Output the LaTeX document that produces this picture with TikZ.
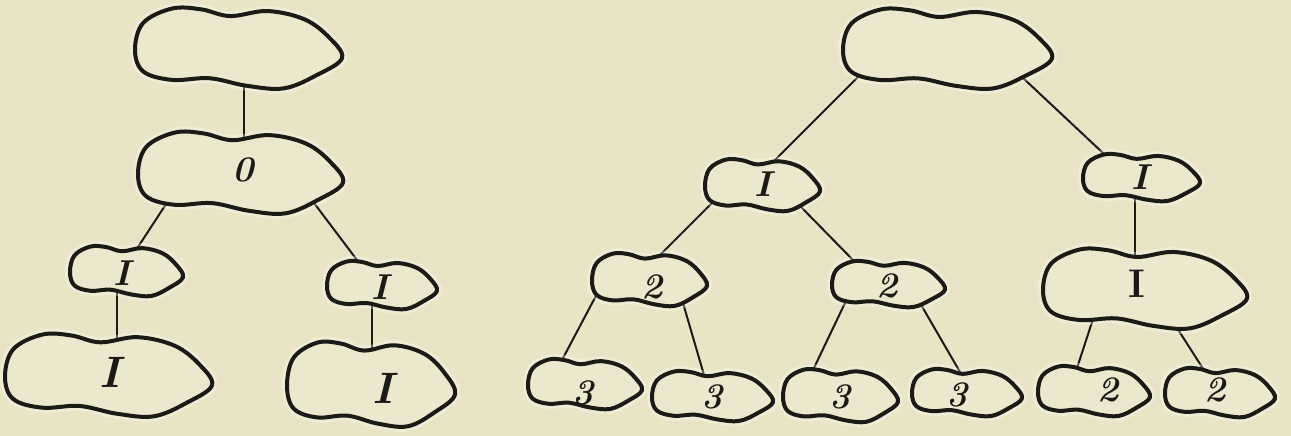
\documentclass[tikz,border=0pt]{standalone}
\usetikzlibrary{calc}
\definecolor{paper}{HTML}{E9E4C5}
\definecolor{blobfill}{HTML}{ECE8CE}
\definecolor{ink}{HTML}{1C1A16}
\tikzset{
  blobline/.style={draw=ink, line width=4pt, fill=blobfill, line join=round},
  blobhalo/.style={draw=white, draw opacity=0.3, line width=10pt},
  blobbox/.style={rectangle, draw=none, inner sep=0pt, outer sep=0pt},
  conn/.style={draw=ink, line width=2pt, shorten <=-6pt, shorten >=-6pt},
  lbl/.style={text=ink, font=\fontsize{36}{38}\selectfont\bfseries\itshape, inner sep=0pt},
  biglbl/.style={text=ink, font=\fontsize{44}{46}\selectfont\bfseries\itshape, inner sep=0pt},
  uplbl/.style={text=ink, font=\fontsize{40}{42}\selectfont\bfseries, inner sep=0pt},
}
\newcommand\drawblob[4]{%
  \begin{scope}[shift={(#1,#2)},xscale=#3,yscale=#4]
    \path[blobhalo] plot[smooth cycle,tension=0.6] coordinates {
      (-0.50,0.02) (-0.46,-0.30) (-0.32,-0.47) (-0.18,-0.46) (-0.04,-0.38)
      (0.14,-0.44) (0.32,-0.34) (0.44,-0.12) (0.50,0.12) (0.38,0.32)
      (0.22,0.48) (0.04,0.45) (-0.14,0.36) (-0.32,0.38) (-0.46,0.28)};
    \path[blobline] plot[smooth cycle,tension=0.6] coordinates {
      (-0.50,0.02) (-0.46,-0.30) (-0.32,-0.47) (-0.18,-0.46) (-0.04,-0.38)
      (0.14,-0.44) (0.32,-0.34) (0.44,-0.12) (0.50,0.12) (0.38,0.32)
      (0.22,0.48) (0.04,0.45) (-0.14,0.36) (-0.32,0.38) (-0.46,0.28)};
  \end{scope}}
\newcommand\blobnode[5]{%
  \node[blobbox, minimum width=#4pt, minimum height=#5pt] (#1) at (#2,#3) {};}
\begin{document}
\begin{tikzpicture}[x=1pt,y=-1pt]
\useasboundingbox (0,0) rectangle (1291,436);
\fill[paper] (0,0) rectangle (1291,436);
% nodes (boxes of the blobs)
\blobnode{A}{238.5}{48}{207}{84}
\blobnode{B}{240.5}{172.5}{205}{85}
\blobnode{C}{126.5}{271}{113}{52}
\blobnode{D}{382}{285}{110}{50}
\blobnode{E}{108.5}{375}{207}{86}
\blobnode{F}{371}{384}{168}{88}
\blobnode{G}{947.5}{48.5}{209}{83}
\blobnode{H}{762.5}{185}{115}{54}
\blobnode{I}{649.5}{279.5}{115}{55}
\blobnode{J}{888.5}{284}{113}{48}
\blobnode{K}{1141.5}{177.5}{117}{49}
\blobnode{L}{1145}{288.5}{204}{83}
\blobnode{Ta}{585}{384}{114}{52}
\blobnode{Tb}{712.5}{396}{121}{52}
\blobnode{Tc}{840.5}{395.5}{115}{55}
\blobnode{Td}{967}{392.5}{110}{49}
\blobnode{Pa}{1094}{391}{112}{52}
\blobnode{Pb}{1220}{392.5}{110}{51}
% connectors
\draw[conn] ([shift={(5.5,40)}]A.center) -- ([shift={(3.5,-37.5)}]B.center);
\draw[conn] ([shift={(-70.5,25.5)}]B.center) -- ([shift={(11.5,-24)}]C.center);
\draw[conn] ([shift={(76.5,34.5)}]B.center) -- ([shift={(-25,-25)}]D.center);
\draw[conn] ([shift={(-9.5,26)}]C.center) -- ([shift={(8.5,-40)}]E.center);
\draw[conn] ([shift={(-10,25)}]D.center) -- ([shift={(1,-42)}]F.center);
\draw[conn] ([shift={(-82.5,21.5)}]G.center) -- ([shift={(9.5,-22)}]H.center);
\draw[conn] ([shift={(75.5,29.5)}]G.center) -- ([shift={(-38.5,-24.5)}]K.center);
\draw[conn] ([shift={(-49.5,17)}]H.center) -- ([shift={(8.5,-22.5)}]I.center);
\draw[conn] ([shift={(39.5,23)}]H.center) -- ([shift={(-35.5,-24)}]J.center);
\draw[conn] ([shift={(-51.5,12.5)}]I.center) -- ([shift={(-23,-24)}]Ta.center);
\draw[conn] ([shift={(33.5,23.5)}]I.center) -- ([shift={(-8.5,-21)}]Tb.center);
\draw[conn] ([shift={(-43.5,19)}]J.center) -- ([shift={(-27.5,-25.5)}]Tc.center);
\draw[conn] ([shift={(31.5,19)}]J.center) -- ([shift={(-7,-20.5)}]Td.center);
\draw[conn] ([shift={(-6.5,24.5)}]K.center) -- ([shift={(-10,-33.5)}]L.center);
\draw[conn] ([shift={(-50,24.5)}]L.center) -- ([shift={(-17,-23)}]Pa.center);
\draw[conn] ([shift={(32,39.5)}]L.center) -- ([shift={(-18,-25.5)}]Pb.center);
% blob outlines
\drawblob{238.5}{48}{207}{84}
\drawblob{240.5}{172.5}{205}{85}
\drawblob{126.5}{271}{113}{52}
\drawblob{382}{285}{110}{50}
\drawblob{108.5}{375}{207}{86}
\drawblob{371}{384}{168}{88}
\drawblob{947.5}{48.5}{209}{83}
\drawblob{762.5}{185}{115}{54}
\drawblob{649.5}{279.5}{115}{55}
\drawblob{888.5}{284}{113}{48}
\drawblob{1141.5}{177.5}{117}{49}
\drawblob{1145}{288.5}{204}{83}
\drawblob{585}{384}{114}{52}
\drawblob{712.5}{396}{121}{52}
\drawblob{840.5}{395.5}{115}{55}
\drawblob{967}{392.5}{110}{49}
\drawblob{1094}{391}{112}{52}
\drawblob{1220}{392.5}{110}{51}
% labels
\node[lbl] (tB) at (243,170) {0};
\node[lbl] (tC) at (122,273) {I};
\node[lbl] (tD) at (380,287) {I};
\node[biglbl] (tE) at (110,372) {I};
\node[biglbl] (tF) at (383,388) {I};
\node[lbl] (tH) at (763,184) {I};
\node[lbl] (tI) at (652,287) {2};
\node[lbl] (tJ) at (887,286) {2};
\node[lbl] (tK) at (1140,177) {I};
\node[uplbl] (tL) at (1137,284) {I};
\node[lbl] (tTa) at (583,393) {3};
\node[lbl] (tTb) at (712,397) {3};
\node[lbl] (tTc) at (840,397) {3};
\node[lbl] (tTd) at (957,395) {3};
\node[lbl] (tPa) at (1108,390) {2};
\node[lbl] (tPb) at (1215,390) {2};
\end{tikzpicture}
\end{document}
